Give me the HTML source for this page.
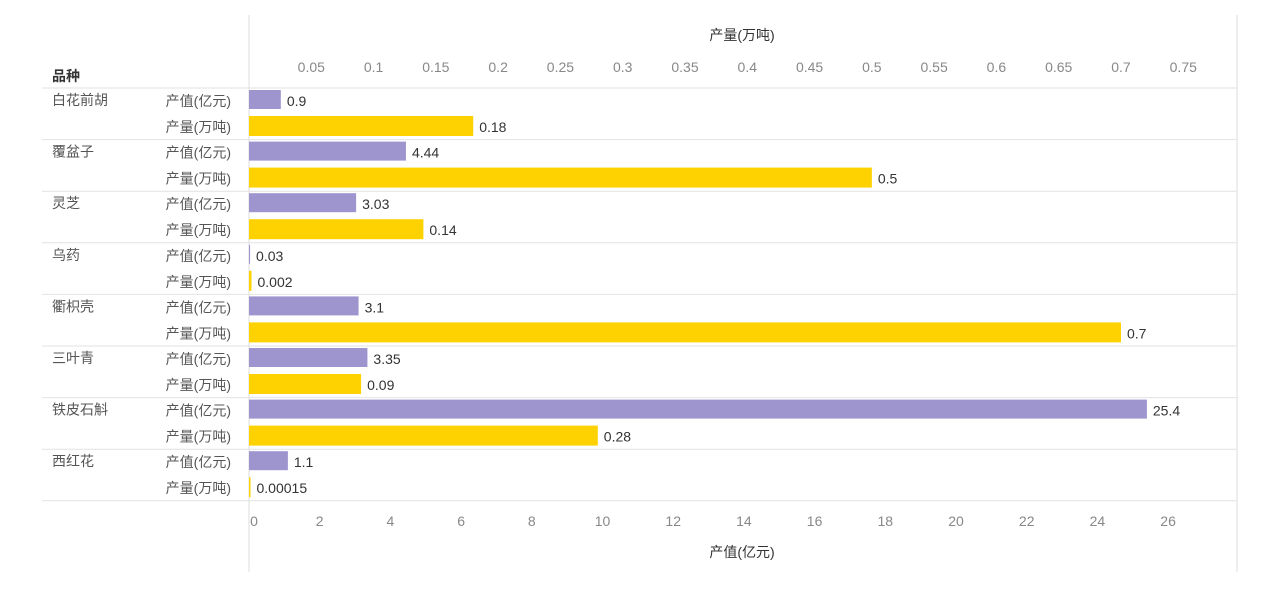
<!DOCTYPE html>
<html><head><meta charset="utf-8">
<style>
html,body{margin:0;padding:0;background:#fff;width:1280px;height:589px;overflow:hidden}
svg{display:block;font-family:"Liberation Sans","Noto Sans CJK SC",sans-serif}
</style></head>
<body>
<svg id="chart" width="1280" height="589" viewBox="0 0 1280 589"></svg>
<script>
const categories = ["白花前胡","覆盆子","灵芝","乌药","衢枳壳","三叶青","铁皮石斛","西红花"];
const valueSeries = [0.9,4.44,3.03,0.03,3.1,3.35,25.4,1.1];
const valueLabels = ["0.9","4.44","3.03","0.03","3.1","3.35","25.4","1.1"];
const qtySeries = [0.18,0.5,0.14,0.002,0.7,0.09,0.28,0.00015];
const qtyLabels = ["0.18","0.5","0.14","0.002","0.7","0.09","0.28","0.00015"];
const bottomTicks = [0,2,4,6,8,10,12,14,16,18,20,22,24,26];
const topTicks = ["0.05","0.1","0.15","0.2","0.25","0.3","0.35","0.4","0.45","0.5","0.55","0.6","0.65","0.7","0.75"];

const NS="http://www.w3.org/2000/svg";
const svg=document.getElementById('chart');
const X0=249, XR=1237;
const xVal=v=>X0+v*35.35;
const xQty=v=>X0+v*1245.7;
const rowTop=i=>88+i*51.6;
function mk(tag,attrs,text){const e=document.createElementNS(NS,tag);for(const k in attrs)e.setAttribute(k,attrs[k]);if(text!==undefined)e.textContent=text;svg.appendChild(e);return e;}

// frame lines
let l=mk('line',{x1:X0,y1:15,x2:X0,y2:572,stroke:'#ddd','stroke-width':1});


l=mk('line',{x1:XR,y1:15,x2:XR,y2:572,stroke:'#ddd','stroke-width':1});


for(let i=0;i<=categories.length;i++){
  const y=rowTop(i);
  l=mk('line',{x1:42,y1:y,x2:XR,y2:y,stroke:'#e2e2e2','stroke-width':1});
  
  
}
// header
let t=mk('text',{x:52,y:81,'font-size':14,fill:'#333','font-weight':'bold'},'品种');


t=mk('text',{x:742,y:40,'font-size':14,fill:'#333','text-anchor':'middle'},'产量(万吨)');


t=mk('text',{x:742,y:557,'font-size':14,fill:'#333','text-anchor':'middle'},'产值(亿元)');


topTicks.forEach(s=>{
  const e=mk('text',{x:xQty(parseFloat(s)),y:72,'font-size':14,fill:'#888','text-anchor':'middle'},s);
  
  
});
bottomTicks.forEach(v=>{
  const e=mk('text',{x:v===0?xVal(v)+5:xVal(v),y:526,'font-size':14,fill:'#888','text-anchor':'middle'},String(v));
  
  
});
categories.forEach((c,i)=>{
  const y=rowTop(i);
  let e=mk('text',{x:52,y:y+17,'font-size':14,fill:'#555'},c);
  
  
  e=mk('text',{x:231,y:y+18,'font-size':14,fill:'#555','text-anchor':'end'},'产值(亿元)');
  
  
  e=mk('text',{x:231,y:y+44,'font-size':14,fill:'#555','text-anchor':'end'},'产量(万吨)');
  
  
  const w1=Math.max(xVal(valueSeries[i])-X0,1);
  e=mk('rect',{x:X0,y:y+2,width:w1,height:19,fill:'#9e95cf'});
  
  
  e=mk('text',{x:X0+w1+6,y:y+18,'font-size':14,fill:'#333'},valueLabels[i]);
  
  
  const w2=Math.max(xQty(qtySeries[i])-X0,1.5);
  e=mk('rect',{x:X0,y:y+28,width:w2,height:20,fill:'#fdd200'});
  
  
  e=mk('text',{x:X0+w2+6,y:y+44,'font-size':14,fill:'#333'},qtyLabels[i]);
  
  
});
</script>
</body></html>
